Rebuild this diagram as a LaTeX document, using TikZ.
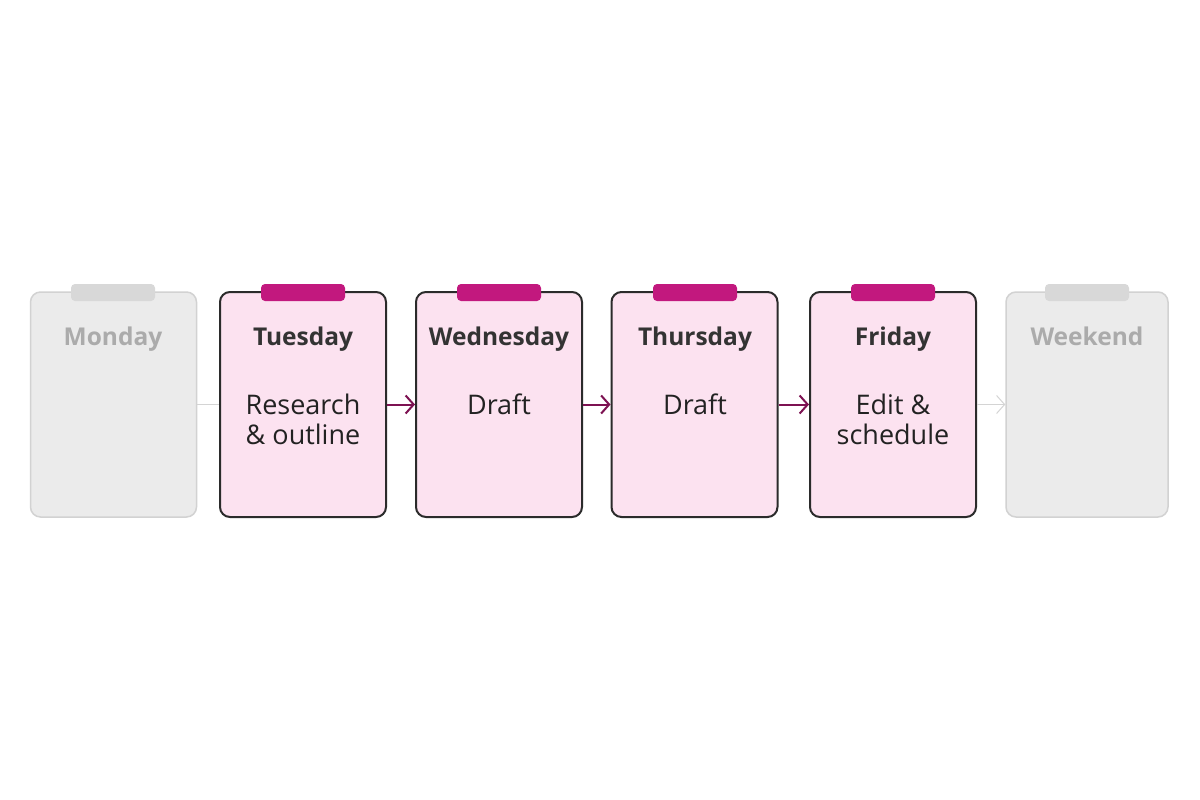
\documentclass[tikz,border=0pt]{standalone}
\usepackage{fontspec}
\setmainfont{Open Sans}
\usetikzlibrary{arrows.meta}
\definecolor{pinkfill}{HTML}{FCE2F0}
\definecolor{cardedge}{HTML}{2B2B2B}
\definecolor{tabpink}{HTML}{C2187E}
\definecolor{grayfill}{HTML}{EBEBEB}
\definecolor{grayedge}{HTML}{D2D2D2}
\definecolor{graytab}{HTML}{D8D8D8}
\definecolor{graytext}{HTML}{ABABAB}
\definecolor{titletext}{HTML}{333333}
\definecolor{bodytext}{HTML}{222222}
\definecolor{arrowcol}{HTML}{7D1252}
\definecolor{grayarrow}{HTML}{D4D4D4}
\tikzset{
  card/.style={draw=cardedge, fill=pinkfill, line width=2pt, rounded corners=10pt,
    minimum width=166pt, minimum height=225pt, inner sep=0pt},
  offcard/.style={card, draw=grayedge, fill=grayfill, line width=1.5pt},
  daytab/.style={fill=tabpink, rounded corners=4pt, minimum width=84pt,
    minimum height=17pt, inner sep=0pt},
  offtab/.style={daytab, fill=graytab},
  daytitle/.style={font=\bfseries\fontsize{24.5}{28}\selectfont, text=titletext, anchor=base, inner sep=0pt},
  offtitle/.style={daytitle, text=graytext},
  daybody/.style={font=\fontsize{27}{30}\selectfont, align=center, text=bodytext, anchor=north, inner sep=0pt},
  flow/.style={draw=arrowcol, line width=2pt, -{Straight Barb[length=8pt,width=18pt,line width=2pt]}},
  offflow/.style={draw=grayarrow, line width=1pt},
  offflowhead/.style={offflow, -{Straight Barb[length=8pt,width=18pt,line width=1pt]}}
}
\begin{document}
\begin{tikzpicture}[x=1pt,y=-1pt]
\useasboundingbox[fill=white] (0,0) rectangle (1200,800);
% cards
\node[offcard] (mon) at (113.5,404.5) {};
\node[card] (tue) at (303,404.5) {};
\node[card] (wed) at (499,404.5) {};
\node[card] (thu) at (694.5,404.5) {};
\node[card] (fri) at (893,404.5) {};
\node[offcard, minimum width=162pt] (wkd) at (1087,404.5) {};
% tabs
\node[offtab] (montab) at (113,292.5) {};
\node[daytab] (tuetab) at (303,292.5) {};
\node[daytab] (wedtab) at (499,292.5) {};
\node[daytab] (thutab) at (695,292.5) {};
\node[daytab] (fritab) at (893,292.5) {};
\node[offtab] (wkdtab) at (1087,292.5) {};
% titles
\node[offtitle] (montitle) at (113,345) {Monday};
\node[daytitle] (tuetitle) at (303,345) {Tuesday};
\node[daytitle] (wedtitle) at (499,345) {Wednesday};
\node[daytitle] (thutitle) at (695,345) {Thursday};
\node[daytitle] (frititle) at (893,345) {Friday};
\node[offtitle] (wkdtitle) at (1087,345) {Weekend};
% bodies
\node[daybody] (tuebody) at (303,394) {Research\\\& outline};
\node[daybody] (wedbody) at (499,394) {Draft};
\node[daybody] (thubody) at (695,394) {Draft};
\node[daybody] (fribody) at (893,394) {Edit \&\\schedule};
% connectors
\draw[offflow] (mon.east) -- (tue.west);
\draw[flow] (tue.east) -- (wed.west);
\draw[flow] (wed.east) -- (thu.west);
\draw[flow] (thu.east) -- (fri.west);
\draw[offflowhead] (fri.east) -- (wkd.west);
\end{tikzpicture}
\end{document}
